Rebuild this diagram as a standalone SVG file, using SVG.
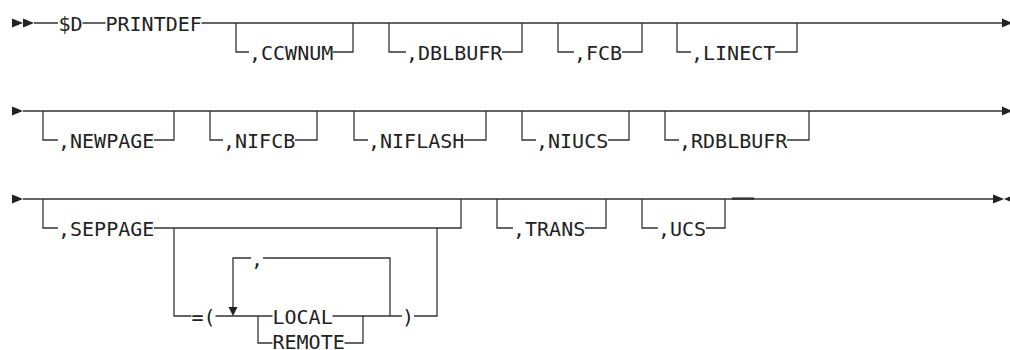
<svg xmlns="http://www.w3.org/2000/svg" width="1010" height="350" viewBox="0 0 1010 350">
<style>
.t{font-family:"DejaVu Sans Mono","Liberation Mono",monospace;font-size:20px;fill:#222}
.c{fill:none;stroke:#333;stroke-width:1.3}
.a{fill:#222;stroke:none}
</style>
<rect width="1010" height="350" fill="#fff"/>
<g id="connectors">
<path class="c" d="M34 23H58M82.5 23H105.5M201.5 23H1003"/>
<path class="c" d="M236 23V52H249M333 52H353V23"/>
<path class="c" d="M389 23V52H406M502 52H522V23"/>
<path class="c" d="M558 23V52H574M622 52H642V23"/>
<path class="c" d="M677 23V52H691M775 52H797V23"/>
<path class="c" d="M23 111H1003"/>
<path class="c" d="M43 111V140H58M154 140H174V111"/>
<path class="c" d="M210 111V140H223M295 140H317V111"/>
<path class="c" d="M354 111V140H368M464 140H486V111"/>
<path class="c" d="M522 111V140H536M608 140H629V111"/>
<path class="c" d="M665 111V140H679M787 140H809V111"/>
<path class="c" d="M23 199H993"/>
<path d="M732 198.6H754" stroke="#333" stroke-width="2.4" fill="none"/>
<path class="c" d="M43 199V228H58M154 228H461V199"/>
<path class="c" d="M174 228V316H191.5M215.5 316H272.5M332.5 316H402M414 316H437V228"/>
<path class="c" d="M233 308V258H251M263 258H390V316"/>
<path class="c" d="M258 316V343H272.5M344.5 343H363V316"/>
<path class="c" d="M497 199V228H513M585 228H606V199"/>
<path class="c" d="M642 199V228H658M706 228H725V199"/>
<polygon class="a" points="12,18.5 23,23 12,27.5"/>
<polygon class="a" points="23,18.5 34,23 23,27.5"/>
<polygon class="a" points="1002,18.5 1012,23 1002,27.5"/>
<polygon class="a" points="12,106.5 23,111 12,115.5"/>
<polygon class="a" points="1002,106.5 1012,111 1002,115.5"/>
<polygon class="a" points="12,194.5 23,199 12,203.5"/>
<polygon class="a" points="993,194.5 1004,199 993,203.5"/>
<polygon class="a" points="1015,194.5 1004,199 1015,203.5"/>
<polygon class="a" points="228.5,307 237.5,307 233,316"/>
</g>
<g id="n-sd"><text class="t" x="58.5" y="30.5">$D</text></g>
<g id="n-printdef"><text class="t" x="105.5" y="30.5">PRINTDEF</text></g>
<g id="n-ccwnum"><text class="t" x="249" y="59.5">,CCWNUM</text></g>
<g id="n-dblbufr"><text class="t" x="406" y="59.5">,DBLBUFR</text></g>
<g id="n-fcb"><text class="t" x="574" y="59.5">,FCB</text></g>
<g id="n-linect"><text class="t" x="691" y="59.5">,LINECT</text></g>
<g id="n-newpage"><text class="t" x="58" y="147.5">,NEWPAGE</text></g>
<g id="n-nifcb"><text class="t" x="223" y="147.5">,NIFCB</text></g>
<g id="n-niflash"><text class="t" x="368" y="147.5">,NIFLASH</text></g>
<g id="n-niucs"><text class="t" x="536" y="147.5">,NIUCS</text></g>
<g id="n-rdblbufr"><text class="t" x="679" y="147.5">,RDBLBUFR</text></g>
<g id="n-seppage"><text class="t" x="58" y="235.5">,SEPPAGE</text></g>
<g id="n-eqparen"><text class="t" x="191.5" y="323.5">=(</text></g>
<g id="n-sep"><text class="t" x="251" y="265.5">,</text></g>
<g id="n-local"><text class="t" x="272.5" y="323.5">LOCAL</text></g>
<g id="n-remote"><text class="t" x="272.5" y="349">REMOTE</text></g>
<g id="n-rparen"><text class="t" x="402" y="323.5">)</text></g>
<g id="n-trans"><text class="t" x="513" y="235.5">,TRANS</text></g>
<g id="n-ucs"><text class="t" x="658" y="235.5">,UCS</text></g>
</svg>
